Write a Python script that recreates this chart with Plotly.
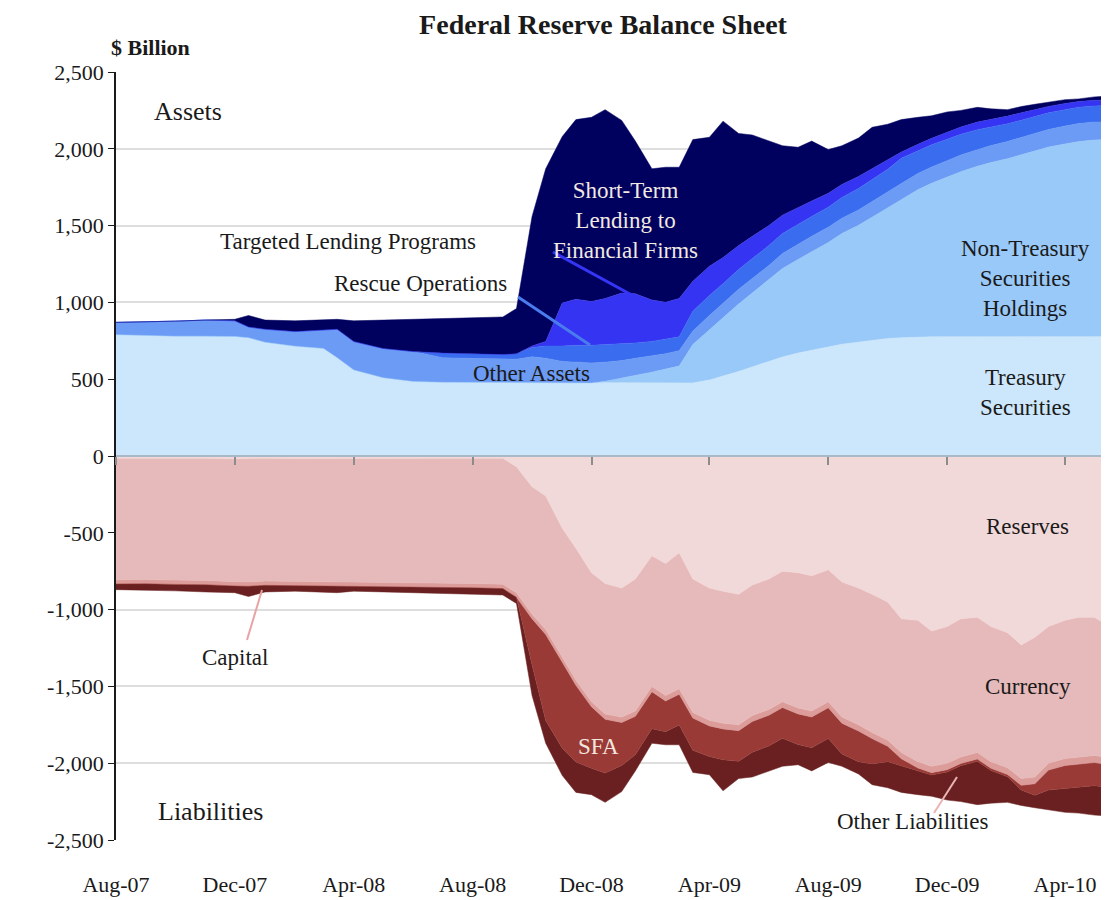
import plotly.graph_objects as go

# semi-monthly / monthly observation dates
dates = [
    "2007-08-01", "2007-09-01", "2007-10-01", "2007-11-01", "2007-12-01", "2007-12-15",
    "2008-01-01", "2008-02-01", "2008-03-01", "2008-03-15", "2008-04-01", "2008-05-01",
    "2008-06-01", "2008-07-01", "2008-08-01", "2008-09-01", "2008-09-15", "2008-10-01",
    "2008-10-15", "2008-11-01", "2008-11-15", "2008-12-01", "2008-12-15", "2009-01-01",
    "2009-01-15", "2009-02-01", "2009-02-15", "2009-03-01", "2009-03-15", "2009-04-01",
    "2009-04-15", "2009-05-01", "2009-05-15", "2009-06-01", "2009-06-15", "2009-07-01",
    "2009-07-15", "2009-08-01", "2009-08-15", "2009-09-01", "2009-09-15", "2009-10-01",
    "2009-10-15", "2009-11-01", "2009-11-15", "2009-12-01", "2009-12-15", "2010-01-01",
    "2010-01-15", "2010-02-01", "2010-02-15", "2010-03-01", "2010-03-15", "2010-04-01",
    "2010-04-15", "2010-05-01", "2010-05-12",
]

# Assets ($ billion, layer thickness)
treasury = [
    790, 785, 780, 780, 778, 770, 740, 715, 700, 640, 560, 510,
    485, 480, 480, 480, 480, 476, 476, 476, 476, 476, 476, 476,
    476, 476, 476, 476, 476, 495, 520, 550, 580, 615, 645, 670,
    690, 710, 728, 742, 755, 765, 770, 774, 776, 776, 776, 776,
    776, 776, 776, 776, 776, 777, 777, 777, 777,
]
non_treasury = [
    0, 0, 0, 0, 0, 0, 0, 0, 0, 0, 0, 0,
    0, 0, 0, 0, 0, 0, 0, 0, 0, 0, 10, 30,
    50, 70, 90, 110, 250, 330, 380, 440, 480, 530, 575, 610,
    640, 680, 720, 760, 800, 850, 900, 960, 1000, 1040, 1075, 1110,
    1135, 1160, 1185, 1210, 1235, 1255, 1270, 1280, 1282,
]
other_assets = [
    80, 87, 98, 105, 102, 70, 85, 95, 120, 185, 185, 190,
    195, 160, 155, 150, 150, 170, 160, 140, 135, 130, 125, 115,
    110, 105, 100, 100, 87, 90, 92, 95, 95, 95, 98, 100,
    100, 100, 100, 100, 100, 102, 104, 105, 105, 106, 108, 108,
    110, 112, 113, 115, 115, 116, 117, 117, 117,
]
rescue_ops = [
    0, 0, 0, 0, 0, 0, 0, 0, 0, 0, 0, 0,
    0, 30, 30, 30, 35, 60, 80, 100, 110, 115, 115, 110,
    100, 95, 95, 90, 130, 130, 130, 130, 130, 130, 130, 130,
    130, 130, 135, 140, 145, 150, 165, 150, 145, 140, 135, 130,
    120, 115, 112, 110, 108, 107, 106, 105, 105,
]
targeted_lending = [
    0, 0, 0, 0, 0, 0, 0, 0, 0, 0, 0, 0,
    0, 0, 0, 0, 0, 10, 30, 280, 300, 285, 300, 330,
    320, 270, 240, 250, 195, 190, 170, 155, 145, 130, 120, 110,
    100, 90, 85, 78, 70, 60, 40, 40, 42, 45, 48, 50,
    50, 50, 48, 45, 42, 40, 38, 37, 36,
]
short_term = [
    0, 0, 0, 0, 10, 75, 60, 70, 65, 65, 135, 185,
    210, 225, 235, 245, 295, 844, 1124, 1084, 1169, 1199, 1229, 1124,
    994, 854, 879, 854, 922, 840, 888, 730, 660, 550, 452, 390,
    390, 285, 252, 250, 270, 233, 211, 176, 147, 133, 108, 96,
    69, 42, 41, 34, 29, 25, 17, 22, 25,
]

# Liabilities ($ billion, magnitude of layer thickness, drawn below zero)
reserves = [
    15, 14, 16, 15, 18, 15, 14, 16, 15, 14, 15, 15,
    16, 15, 15, 15, 70, 200, 260, 470, 600, 760, 830, 860,
    800, 650, 700, 630, 800, 860, 880, 900, 840, 800, 750, 760,
    780, 740, 820, 860, 900, 950, 1060, 1070, 1140, 1110, 1060, 1050,
    1110, 1150, 1230, 1180, 1110, 1070, 1050, 1050, 1090,
]
currency = [
    790, 790, 792, 795, 800, 805, 800, 800, 802, 805, 805, 808,
    810, 812, 815, 820, 820, 830, 870, 840, 860, 840, 850, 840,
    860, 850, 860, 885, 870, 860, 860, 850, 850, 850, 850, 880,
    880, 860, 880, 890, 900, 900, 870, 920, 880, 890, 900, 880,
    880, 880, 870, 910, 890, 900, 910, 900, 870,
]
capital = [
    28, 28, 28, 28, 28, 28, 28, 28, 28, 28, 28, 28,
    28, 28, 28, 28, 30, 30, 32, 32, 33, 33, 34, 35,
    35, 35, 35, 36, 36, 37, 37, 38, 38, 38, 38, 39,
    39, 39, 40, 40, 40, 40, 41, 41, 42, 42, 42, 43,
    43, 44, 44, 44, 45, 45, 45, 46, 46,
]
sfa = [
    0, 0, 0, 0, 0, 0, 0, 0, 0, 0, 0, 0,
    0, 0, 0, 0, 0, 300, 560, 560, 500, 400, 350, 280,
    250, 240, 200, 200, 210, 200, 200, 200, 200, 200, 200, 200,
    200, 200, 200, 200, 165, 100, 45, 20, 15, 15, 15, 15,
    15, 15, 30, 75, 130, 150, 150, 150, 150,
]
other_liab = [
    37, 40, 42, 47, 44, 67, 43, 36, 40, 43, 32, 34,
    36, 40, 42, 42, 40, 200, 148, 178, 197, 172, 191, 170,
    105, 95, 85, 129, 144, 118, 203, 112, 162, 162, 182, 131,
    151, 156, 80, 80, 135, 170, 174, 154, 138, 183, 233, 282,
    212, 166, 101, 81, 130, 155, 170, 192, 186,
]

tick_dates = ["2007-08-01", "2007-12-01", "2008-04-01", "2008-08-01", "2008-12-01",
              "2009-04-01", "2009-08-01", "2009-12-01", "2010-04-01"]
y_vals = [2500, 2000, 1500, 1000, 500, 0, -500, -1000, -1500, -2000, -2500]
y_text = ["2,500", "2,000", "1,500", "1,000", "500", "0", "-500",
          "-1,000", "-1,500", "-2,000", "-2,500"]

FONT = "Liberation Serif, Times New Roman, serif"

asset_layers = [
    ("Treasury Securities", treasury, "#cce7fb"),
    ("Non-Treasury Securities Holdings", non_treasury, "#99c9f8"),
    ("Other Assets", other_assets, "#6b9bf4"),
    ("Rescue Operations", rescue_ops, "#3a6cf0"),
    ("Targeted Lending Programs", targeted_lending, "#3434f2"),
    ("Short-Term Lending to Financial Firms", short_term, "#00005e"),
]
liab_layers = [
    ("Reserves", reserves, "#f2d9d9"),
    ("Currency", currency, "#e6baba"),
    ("Capital", capital, "#dc9c9a"),
    ("SFA", sfa, "#9a3a36"),
    ("Other Liabilities", other_liab, "#6a2020"),
]

fig = go.Figure()
for name, vals, color in asset_layers:
    fig.add_trace(go.Scatter(
        x=dates, y=vals, name=name, stackgroup="assets", mode="lines",
        line=dict(width=0.5, color=color), fillcolor=color,
        hoverinfo="skip",
    ))
for name, vals, color in liab_layers:
    fig.add_trace(go.Scatter(
        x=dates, y=[-v for v in vals], name=name, stackgroup="liabilities", mode="lines",
        line=dict(width=0.5, color=color), fillcolor=color,
        hoverinfo="skip",
    ))
# dummy trace so the zero-crossing axis with tick marks is drawn
fig.add_trace(go.Scatter(x=[dates[0], dates[-1]], y=[0, 0], xaxis="x2", mode="lines",
                         line=dict(width=0), hoverinfo="skip", showlegend=False))

W, H = 1109, 900
PAGE = 8  # body margin of the html page
# plot area in screen pixels
X0, X1, Y0, Y1 = 116, 1105, 72, 840


def px(x, y):
    """screen pixel position -> paper coordinates"""
    return (x - X0) / (X1 - X0), (Y1 - y) / (Y1 - Y0)


labels = [
    ("Assets", 188, 111, 26, "#1a1a1a"),
    ("Targeted Lending Programs", 348, 241, 23, "#1a1a1a"),
    ("Rescue Operations", 420, 283, 23, "#1a1a1a"),
    ("Other Assets", 531, 373, 23, "#1a1a1a"),
    ("Short-Term<br>Lending to<br>Financial Firms", 625, 221, 23, "#f1e9e2"),
    ("Non-Treasury<br>Securities<br>Holdings", 1025, 278, 23, "#1a1a1a"),
    ("Treasury<br>Securities", 1025, 392, 23, "#1a1a1a"),
    ("Reserves", 1027, 526, 23, "#1a1a1a"),
    ("Currency", 1028, 686, 23, "#1a1a1a"),
    ("SFA", 598, 746, 23, "#f3e6df"),
    ("Capital", 235, 657, 23, "#1a1a1a"),
    ("Liabilities", 210, 811, 26, "#1a1a1a"),
    ("Other Liabilities", 912, 821, 23, "#1a1a1a"),
    ("<b>$ Billion</b>", 150, 47, 22, "#1a1a1a"),
]
annotations = []
for text, x, y, size, color in labels:
    ax, ay = px(x, y)
    annotations.append(dict(
        x=ax, y=ay, xref="paper", yref="paper", text=text, showarrow=False,
        xanchor="center", yanchor="middle", align="center",
        font=dict(family=FONT, size=size, color=color),
    ))

pointers = [
    (518, 297, 590, 345, "#4a7cee", 3),
    (553, 252, 650, 305, "#3535f5", 3),
    (262, 590, 247, 640, "#e8a4a4", 2),
    (957, 777, 934, 813, "#e9b4b4", 2),
]
shapes = []
for x0, y0, x1, y1, color, w in pointers:
    p0, p1 = px(x0, y0), px(x1, y1)
    shapes.append(dict(type="line", xref="paper", yref="paper",
                       x0=p0[0], y0=p0[1], x1=p1[0], y1=p1[1],
                       line=dict(color=color, width=w)))

fig.update_layout(
    width=W, height=H,
    margin=dict(l=X0 - PAGE, r=W - (X1 - PAGE), t=Y0 - PAGE, b=H - (Y1 - PAGE)),
    paper_bgcolor="white", plot_bgcolor="white",
    showlegend=False,
    font=dict(family=FONT, size=22, color="#1a1a1a"),
    title=dict(text="<b>Federal Reserve Balance Sheet</b>", x=(603 - PAGE) / W,
               y=1 - (24 - PAGE) / H, xanchor="center", yanchor="middle",
               font=dict(family=FONT, size=28, color="#1a1a1a")),
    xaxis=dict(
        type="date", range=[dates[0], dates[-1]],
        tickvals=tick_dates, tickformat="%b-%y",
        ticks="", showline=False, showgrid=False, zeroline=False,
        ticklabelstandoff=29,
        tickfont=dict(family=FONT, size=22, color="#1a1a1a"),
    ),
    xaxis2=dict(
        type="date", overlaying="x", matches="x", anchor="free", position=0.5,
        side="bottom", tickvals=tick_dates, showticklabels=False,
        ticks="outside", ticklen=8, tickwidth=1.5, tickcolor="#8c8c8c",
        showline=True, linecolor="#a9b9c8", linewidth=1.5, showgrid=False, zeroline=False,
    ),
    yaxis=dict(
        range=[-2500, 2500], tickvals=y_vals, ticktext=y_text,
        showgrid=True, gridcolor="#dedede", gridwidth=1.5, zeroline=False,
        showline=True, linecolor="#1a1a1a", linewidth=1.5,
        ticks="outside", ticklen=6, tickcolor="#1a1a1a",
        tickfont=dict(family=FONT, size=22, color="#1a1a1a"),
    ),
    annotations=annotations,
    shapes=shapes,
)

fig.write_html("out.html")
